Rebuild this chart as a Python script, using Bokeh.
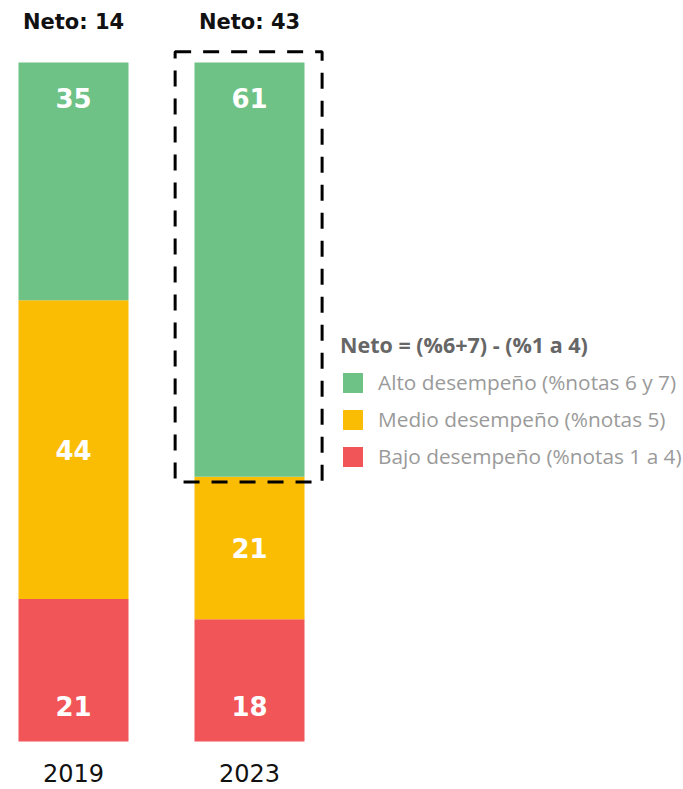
from bokeh.plotting import figure
from bokeh.models import Range1d, ColumnDataSource, Legend, LegendItem
from bokeh.core.properties import value
from bokeh.embed import file_html
from bokeh.resources import INLINE

# Data
years = ["2019", "2023"]
bajo = [21, 18]    # %notas 1 a 4
medio = [44, 21]   # %notas 5
alto = [35, 61]    # %notas 6 y 7
neto = [a - b for a, b in zip(alto, bajo)]

GREEN = "#6ec286"
YELLOW = "#fabd04"
RED = "#f15558"

xs = list(range(len(years)))
BAR_W = 0.625

p = figure(width=683, height=789, output_backend="svg", toolbar_location=None,
           x_range=Range1d(-73 / 176, (683 - 73) / 176),
           y_range=Range1d(-48 / 6.79, 100 + 62 / 6.79),
           x_axis_location=None, y_axis_location=None,
           min_border=0, outline_line_color=None)
p.grid.visible = False

src = ColumnDataSource(dict(x=xs, bajo=bajo, medio=medio, alto=alto))
r_bajo, r_medio, r_alto = p.vbar_stack(["bajo", "medio", "alto"], x="x", width=BAR_W,
                                       source=src, color=[RED, YELLOW, GREEN],
                                       line_color=None)

# Segment value labels
num_font = value("DejaVu Sans")
lbl_x, lbl_y, lbl_t = [], [], []
for i in xs:
    b, m, a = bajo[i], medio[i], alto[i]
    lbl_x += [i, i, i]
    lbl_y += [5.3, b + m / 2, b + m + a - 5.3]
    lbl_t += [str(b), str(m), str(a)]
p.text(x=lbl_x, y=lbl_y, text=lbl_t, text_color="white", text_font=num_font,
       text_font_style="bold", text_font_size="26px", text_align="center",
       text_baseline="middle")

# Neto labels above bars
p.text(x=xs, y=[106.0] * len(xs), text=[f"Neto: {n}" for n in neto],
       text_color="#111111", text_font=num_font, text_font_style="bold",
       text_font_size="21px", text_align="center", text_baseline="middle")

# Year labels
p.text(x=xs, y=[-4.7] * len(xs), text=years, text_color="#111111",
       text_font=num_font, text_font_size="24px",
       text_align="center", text_baseline="middle")

# Dashed highlight around the 2023 high-performance segment
hi = 1
p.quad(left=[hi - BAR_W / 2 - 0.11], right=[hi + BAR_W / 2 + 0.10],
       bottom=[bajo[hi] + medio[hi] - 0.8], top=[100 + 1.6],
       fill_color=None, line_color="black", line_width=3, line_dash="16 12")

legend = Legend(
    items=[LegendItem(label="Alto desempeño (%notas 6 y 7)", renderers=[r_alto]),
           LegendItem(label="Medio desempeño (%notas 5)", renderers=[r_medio]),
           LegendItem(label="Bajo desempeño (%notas 1 a 4)", renderers=[r_bajo])],
    title="Neto = (%6+7) - (%1 a 4)",
    location=(340, 319), orientation="vertical",
    border_line_color=None, background_fill_alpha=0,
    padding=0, margin=0, spacing=9,
    glyph_width=25, glyph_height=25, label_height=25, label_standoff=13,
    label_text_color="#9a9a9a", label_text_font_size="20.8px",
    label_text_font="Open Sans",
    title_text_font="Open Sans", title_text_font_style="bold",
    title_text_color="#666666", title_text_font_size="21.5px", title_standoff=9,
)
p.add_layout(legend)

open("out.html", "w").write(file_html(p, INLINE))
